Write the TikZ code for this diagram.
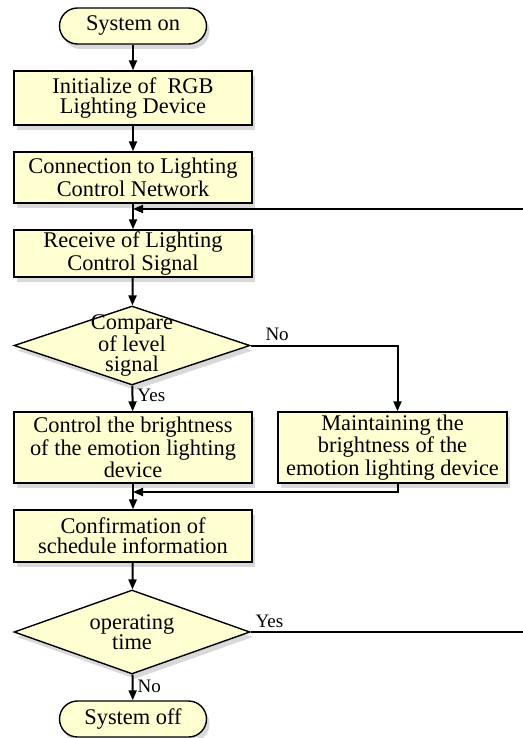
\documentclass[tikz,border=0pt]{standalone}
\usepackage{fontspec}
\setmainfont{Liberation Serif}
\usetikzlibrary{shapes.geometric,shadows,arrows.meta}
\definecolor{boxfill}{HTML}{FFFFD2}

\begin{document}
\begin{tikzpicture}[x=0.5pt,y=-0.5pt,
  base/.style={draw=black,line width=0.7pt,fill=boxfill,
    drop shadow={shadow xshift=1.5pt,shadow yshift=-2.5pt,opacity=0.3},
    align=center,inner sep=0pt,font=\fontsize{11.2}{10}\selectfont},
  process/.style={base,rectangle,minimum width=119pt},
  terminal/.style={base,rectangle,rounded corners=9pt,minimum width=73.5pt,minimum height=18pt},
  decision/.style={base,diamond,minimum width=118pt},
  inside/.style={align=center,inner sep=0pt,font=\fontsize{11.2}{10}\selectfont},
  flow/.style={-{Triangle[length=5pt,width=4pt]},line width=1pt},
  plain/.style={line width=0.8pt},
  tag/.style={font=\fontsize{9.5}{10}\selectfont,inner sep=2pt}]
\useasboundingbox (0,0) rectangle (523,738);
\node[terminal] (son) at (133,26) {System on};
\node[process,minimum height=27pt] (init) at (133,98) {Initialize of\enspace RGB\\Lighting Device};
\node[process,minimum height=25.5pt] (conn) at (133,177.5) {Connection to Lighting\\Control Network};
\node[process,minimum height=23.5pt] (recv) at (133,253.5) {Receive of Lighting\\Control Signal};
\node[decision,minimum height=39.5pt] (cmp) at (132,345.5) {};
\node[inside] (cmptxt) at (cmp) {Compare\\of level\\signal};
\node[process,minimum height=35.5pt] (ctrl) at (133,447.5) {Control the brightness\\of the emotion lighting\\device};
\node[process,minimum width=114.5pt,minimum height=35.5pt] (maint) at (392.5,447.5) {Maintaining the\\brightness of the\\emotion lighting device};
\node[process,minimum height=26pt] (conf) at (133,536) {Confirmation of\\schedule information};
\node[decision,minimum height=42pt] (op) at (132,632) {};
\node[inside] (optxt) at (op) {operating\\time};
\node[terminal] (soff) at (133,719) {System off};
\coordinate (back) at (523,209);
\coordinate (join1) at (133,209);
\coordinate (join2) at (133,492);
\coordinate (opend) at (523,632);
\draw[flow] (son) -- (init);
\draw[flow] (init) -- (conn);
\draw[flow] (conn) -- (recv);
\draw[flow] (back) -- (join1);
\draw[flow] (recv) -- (cmp);
\draw[flow] (cmp) -- node[tag,right,pos=0.4] (yes1) {Yes} (ctrl);
\draw[flow] (cmp.east) -| node[tag,above,pos=0.09] (no1) {No} ([xshift=2.5pt]maint.north);
\draw[flow] (ctrl) -- (conf);
\draw[flow] ([xshift=2.5pt]maint.south) |- (join2);
\draw[flow] (conf) -- (op);
\draw[flow] (op) -- node[tag,right,pos=0.45] (no2) {No} (soff);
\draw[plain] (op.east) -- node[tag,above right,pos=0] (yes2) {Yes} (opend);
\end{tikzpicture}
\end{document}
